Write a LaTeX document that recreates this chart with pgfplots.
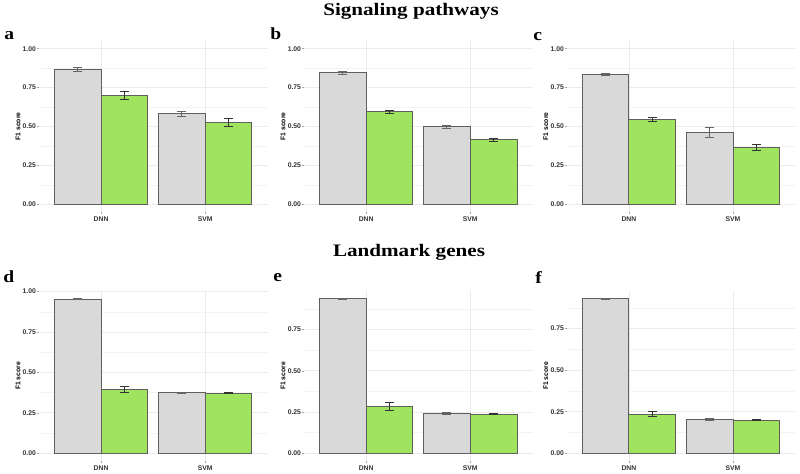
\documentclass[border=0pt]{standalone}
\usepackage{fontspec}
\setmainfont{Liberation Serif}
\setsansfont{Liberation Sans}
\usepackage{graphicx}
\usepackage{pgfplots}
\pgfplotsset{compat=1.18}

\definecolor{barGrey}{HTML}{D9D9D9}
\definecolor{barGreen}{HTML}{A0E35F}
\definecolor{edge}{HTML}{5F5F5F}
\definecolor{gridc}{HTML}{EBEBEB}
\definecolor{tickc}{HTML}{333333}

\newcommand{\smallsans}{\sffamily\bfseries\fontsize{3.4}{4}\selectfont}

\pgfplotsset{
  panel/.style={
    scale only axis, width=114.5pt,
    anchor=south west,
    xmin=0.4, xmax=2.6,
    xtick={1,2}, xticklabels={DNN,SVM},
    ytick={0,0.25,0.5,0.75,1}, yticklabels={0.00,0.25,0.50,0.75,1.00},
    minor y tick num=1,
    axis line style={draw=none},
    tick pos=left,
    tick align=outside, major tick length=1pt, minor tick length=0pt,
    tick style={draw=gray!70, line width=0.3pt},
    xmajorgrids, ymajorgrids, yminorgrids,
    major grid style={draw=gridc, line width=0.4pt},
    minor grid style={draw=gridc!60, line width=0.3pt},
    ticklabel style={font=\smallsans, text=tickc},
    yticklabel style={xshift=3.2pt},
    xticklabel style={yshift=2pt},
    ylabel={F1 score},
    ylabel style={font=\smallsans, text=black, at={(axis description cs:-0.09,0.5)}, anchor=center},
  },
  greybar/.style={ybar, bar width=0.45, bar shift=0pt, fill=barGrey, draw=edge, line width=0.5pt,
    error bars/.cd, y dir=both, y explicit,
    error bar style={draw=gray!80!black, line width=0.5pt},
    error mark options={rotate=90, draw=gray!80!black, mark size=2.2pt, line width=0.5pt}},
  greenbar/.style={ybar, bar width=0.45, bar shift=0pt, fill=barGreen, draw=edge, line width=0.5pt,
    error bars/.cd, y dir=both, y explicit,
    error bar style={draw=black!80, line width=0.5pt},
    error mark options={rotate=90, draw=black!80, mark size=2.2pt, line width=0.5pt}},
}

\begin{document}
\begin{tikzpicture}
\path[use as bounding box] (0pt,0pt) rectangle (400pt,-236.5pt);

% ---------------- row 1: Signaling pathways ----------------
\begin{axis}[panel, height=85.5pt, ymin=-0.05, ymax=1.05, at={(19.3pt,-106pt)}]
\addplot[greybar] table[x=x, y=y, y error=e] {
x y e
0.775 0.868 0.012
1.775 0.581 0.015
};
\addplot[greenbar] table[x=x, y=y, y error=e] {
x y e
1.225 0.698 0.025
2.225 0.528 0.025
};
\end{axis}

\begin{axis}[panel, height=85.5pt, ymin=-0.05, ymax=1.05, at={(151.85pt,-106pt)}]
\addplot[greybar] table[x=x, y=y, y error=e] {
x y e
0.775 0.845 0.010
1.775 0.497 0.010
};
\addplot[greenbar] table[x=x, y=y, y error=e] {
x y e
1.225 0.594 0.008
2.225 0.415 0.010
};
\end{axis}

\begin{axis}[panel, height=85.5pt, ymin=-0.05, ymax=1.05, at={(283.25pt,-106pt)}]
\addplot[greybar] table[x=x, y=y, y error=e] {
x y e
0.775 0.833 0.008
1.775 0.460 0.032
};
\addplot[greenbar] table[x=x, y=y, y error=e] {
x y e
1.225 0.546 0.012
2.225 0.367 0.020
};
\end{axis}

% ---------------- row 2: Landmark genes ----------------
\begin{axis}[panel, height=85pt, ymin=-0.0478, ymax=1.0038, at={(19.3pt,-230.5pt)}]
\addplot[greybar] table[x=x, y=y, y error=e] {
x y e
0.775 0.954 0.002
1.775 0.374 0.005
};
\addplot[greenbar] table[x=x, y=y, y error=e] {
x y e
1.225 0.395 0.020
2.225 0.372 0.002
};
\end{axis}

\begin{axis}[panel, height=85pt, ymin=-0.0469, ymax=0.984, at={(151.85pt,-230.5pt)}]
\addplot[greybar] table[x=x, y=y, y error=e] {
x y e
0.775 0.936 0.002
1.775 0.242 0.007
};
\addplot[greenbar] table[x=x, y=y, y error=e] {
x y e
1.225 0.283 0.022
2.225 0.237 0.002
};
\end{axis}

\begin{axis}[panel, height=85pt, ymin=-0.0465, ymax=0.9765, at={(283.25pt,-230.5pt)}]
\addplot[greybar] table[x=x, y=y, y error=e] {
x y e
0.775 0.930 0.002
1.775 0.204 0.008
};
\addplot[greenbar] table[x=x, y=y, y error=e] {
x y e
1.225 0.234 0.015
2.225 0.200 0.002
};
\end{axis}

% titles and panel letters
\node[anchor=base, font=\bfseries\fontsize{8.8}{10}\selectfont, inner sep=0pt] at (205.5pt,-7.5pt) {\scalebox{1.2}[1]{Signaling pathways}};
\node[anchor=base, font=\bfseries\fontsize{8.8}{10}\selectfont, inner sep=0pt] at (204.5pt,-128.25pt) {\scalebox{1.2}[1]{Landmark genes}};
\foreach \l/\x/\y in {a/2/-19.5, b/135/-19.5, c/266.5/-20, d/1.5/-141, e/136.5/-140.5, f/267.5/-141.5}{
  \node[anchor=base west, font=\bfseries\fontsize{8.5}{10}\selectfont, inner sep=0pt] at (\x pt,\y pt) {\scalebox{1.15}[1]{\l}};
}
\end{tikzpicture}
\end{document}
